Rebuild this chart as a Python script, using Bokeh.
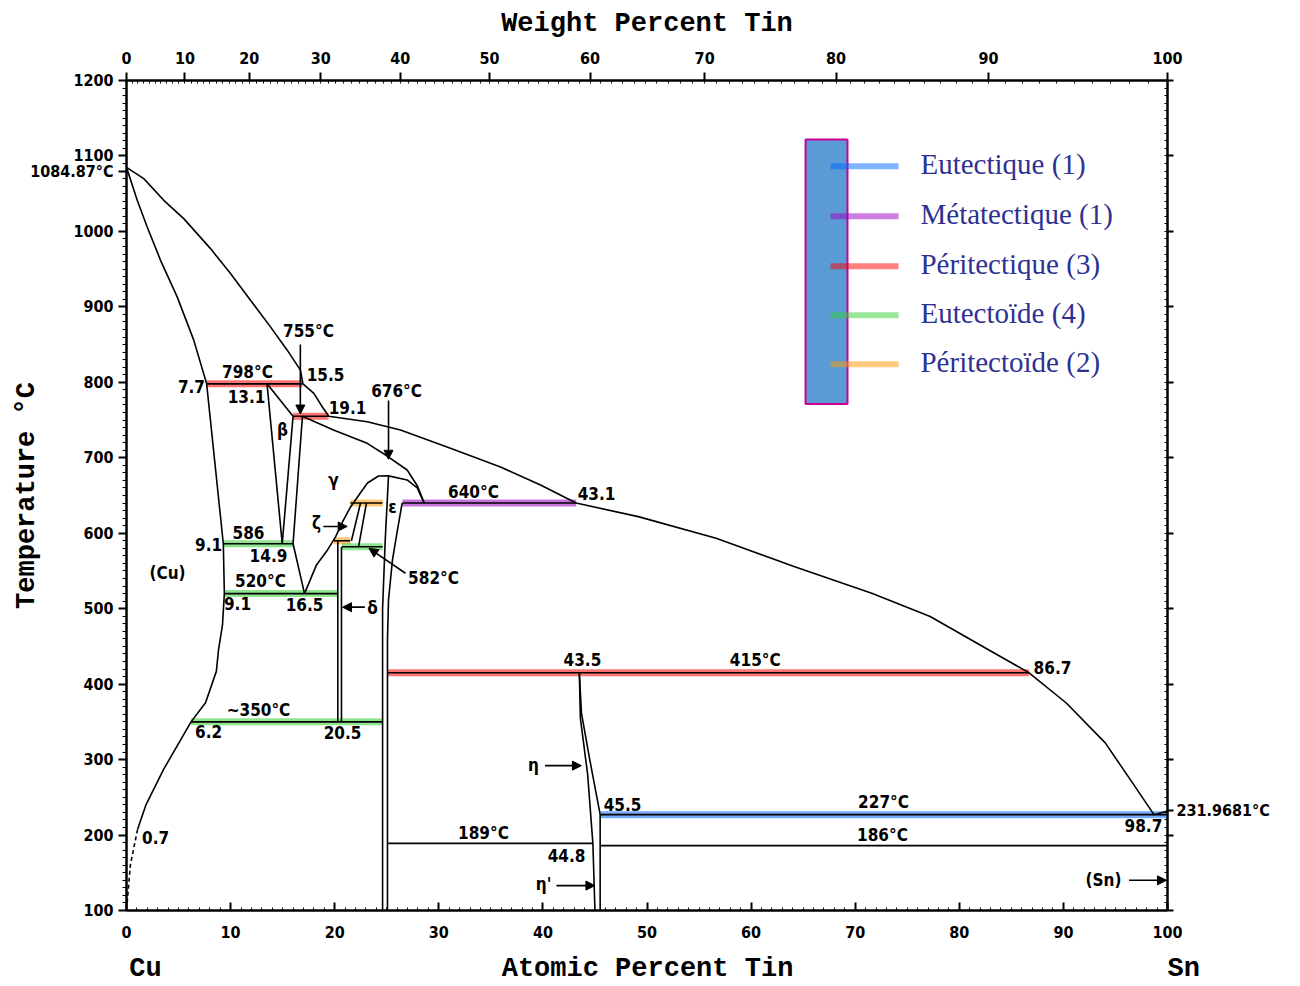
from bokeh.plotting import figure
from bokeh.models import (Range1d, LinearAxis, FixedTicker, Arrow,
                          NormalHead, ColumnDataSource)
from bokeh.core.properties import value
from bokeh.embed import file_html
from bokeh.resources import INLINE

# ------------------------------------------------------------------ data
# Liquidus (atomic % Sn, temperature degC)
liq_x = [0, 1.66, 3.58, 5.50, 8.07, 9.99, 11.91, 13.83, 15.44, 16.71, 16.95, 18.0, 18.8, 19.43,
         23.12, 26.32, 31.12, 35.93, 39.77, 43.19, 49.16, 56.64, 64.12, 71.59, 77.2, 82.8,
         86.7, 90.28, 94.02, 96.64, 98.7, 100]
liq_t = [1084.87, 1069.9, 1041.2, 1016.9, 977.2, 944.1, 908.8, 873.5, 842.6, 816.2, 798, 785.3,
         767.6, 755, 747.7, 736.7, 712.5, 687.8, 663.9, 640, 622.0, 593.4, 555.8, 520.6, 489.6,
         445.6, 415, 375.0, 322.1, 269.1, 227, 231.97]
# (Cu) solidus
sol_x = [0, 1.03, 1.99, 3.27, 4.87, 6.46, 7.7]
sol_t = [1084.87, 1041.2, 1005.8, 961.7, 913.2, 855.9, 798]
# (Cu) solvus
solv_x = [7.7, 9.3, 9.4, 9.22, 8.84, 8.63, 7.59, 6.2, 3.55, 1.88, 1.06]
solv_t = [798, 586, 520, 478.6, 445.5, 416.9, 375.4, 350, 286.7, 240.4, 207.3]
solvd_x = [1.06, 0.38, 0.03]
solvd_t = [207.3, 161, 105]
# beta / gamma boundaries
beta_left_x, beta_left_t = [13.5, 14.96], [798, 586]
beta_top_x, beta_top_t = [13.5, 16.0], [798, 755]
beta_right_x, beta_right_t = [16.0, 14.96], [755, 586]
gamma_left_x, gamma_left_t = [16.9, 16.0, 17.1], [755, 586, 520]
gsol_x = [16.9, 19.88, 23.12, 25.04, 26.96, 27.95, 28.6]
gsol_t = [755, 736.7, 719.1, 702.3, 683.8, 662.6, 640]
dome_x = [17.1, 18.25, 19.31, 20.08, 20.75, 21.52, 22.19, 23.15, 24.21, 25.17, 26.96, 27.93, 28.6]
dome_t = [520, 558, 577.9, 595.1, 614.9, 634.8, 648.0, 666.6, 675.8, 676, 670.6, 660.0, 640]
# epsilon, zeta, delta, eta
eps_l_x, eps_l_t = [25.17, 24.85, 24.6, 24.6], [676, 590, 500, 100]
eps_r_x, eps_r_t = [26.48, 26.03, 25.55, 25.17, 25.07, 25.07], [640, 604.4, 564.7, 511.7, 458.8, 100]
zeta_l_x, zeta_l_t = [22.48, 21.61], [640, 590]
zeta_r_x, zeta_r_t = [23.05, 22.29], [640, 582]
delta_l_x, delta_l_t = [20.3, 20.3], [590, 350]
delta_r_x, delta_r_t = [20.65, 20.65], [582, 350]
eta_l_x, eta_l_t = [43.5, 43.6, 44.3, 44.8, 45.0], [415, 355, 280, 189, 100]
eta_r_x, eta_r_t = [43.5, 43.7, 44.5, 45.5, 45.5], [415, 362, 300, 227, 100]

# invariant reactions (horizontal lines)
inv_t = [798, 755, 640, 640, 590, 586, 582, 520, 415, 350, 227, 189, 186]
inv_x0 = [7.7, 16.0, 26.5, 21.5, 19.9, 9.3, 20.7, 9.4, 25.07, 6.2, 45.5, 25.07, 45.5]
inv_x1 = [16.9, 19.4, 43.2, 24.6, 21.5, 16.0, 24.6, 20.3, 86.7, 24.6, 100, 44.8, 100]
inv_kind = ["per", "per", "met", "perd", "perd", "eutd", "eutd", "eutd", "per", "eutd",
            "eut", "none", "none"]

kind_color = {"eut": "#0066ff", "met": "#9900c1", "per": "#ff0000",
              "eutd": "#33cd33", "perd": "#ff9900"}

# arrows (x0, t0) -> (x1, t1)
arr_x0 = [16.7, 25.17, 18.9, 22.9, 26.8, 40.2, 41.3, 96.3]
arr_t0 = [850, 776, 609, 502, 547, 292, 133, 140]
arr_x1 = [16.7, 25.17, 21.2, 20.75, 23.3, 43.7, 45.0, 99.9]
arr_t1 = [758, 698, 609, 502, 580, 292, 133, 140]

# in-plot annotations
lab_text = ["755°C", "798°C", "15.5", "7.7", "13.1", "19.1", "676°C", "β", "γ", "640°C",
            "43.1", "ε", "ζ", "586", "9.1", "14.9", "(Cu)", "520°C", "9.1", "16.5", "δ",
            "582°C", "43.5", "415°C", "86.7", "~350°C", "6.2", "20.5", "η", "45.5",
            "227°C", "189°C", "186°C", "98.7", "44.8", "0.7", "η'", "(Sn)"]
lab_x = [17.48, 11.62, 19.12, 6.24, 11.53, 21.23, 25.94, 14.99, 19.88, 33.33,
         45.15, 25.55, 18.25, 11.72, 7.88, 13.64, 3.94, 12.87, 10.66, 17.1, 23.63,
         29.49, 43.8, 60.4, 88.95, 12.68, 7.88, 20.75, 39.1, 47.65,
         72.72, 34.29, 72.62, 97.69, 42.27, 2.79, 40.06, 93.85]
lab_t = [867.8, 813.5, 810.9, 795.0, 781.7, 767.2, 788.4, 736.7, 670.6, 654.7,
         652.0, 634.8, 613.6, 600.4, 584.5, 569.9, 547.5, 536.9, 506.4, 505.1, 501.1,
         540.8, 432.3, 432.3, 421.7, 366.1, 337.0, 335.7, 293.3, 240.4,
         244.3, 203.3, 200.7, 212.6, 172.9, 196.7, 134.5, 139.8]

# axis ticks
at_ticks = list(range(0, 101, 10))
wt_ticks = list(range(0, 101, 10))
t_ticks = list(range(100, 1201, 100))
cu_melt_label = "1084.87°C"
sn_melt_label = "231.9681°C"

# legend
leg_labels = ["Eutectique (1)", "Métatectique (1)", "Péritectique (3)", "Eutectoïde (4)",
              "Péritectoïde (2)"]
leg_kinds = ["eut", "met", "per", "eutd", "perd"]

# ------------------------------------------------------------------ helpers
M_SN, M_CU = 118.71, 63.546


def wt_to_at(w):
    if w <= 0:
        return 0.0
    if w >= 100:
        return 100.0
    a = w / M_SN
    b = (100 - w) / M_CU
    return 100 * a / (a + b)


FONT = "Liberation Sans Narrow, DejaVu Sans Condensed, Liberation Sans, sans-serif"
MONO = "Liberation Mono, DejaVu Sans Mono, monospace"

p = figure(width=1300, height=986, x_range=Range1d(0, 100), y_range=Range1d(100, 1200),
           output_backend="svg", toolbar_location=None,
           min_border_left=126, min_border_right=133, min_border_top=80, min_border_bottom=75)
p.grid.visible = False
p.outline_line_color = "black"
p.outline_line_width = 2
p.background_fill_color = "white"


def style_axis(ax):
    ax.axis_line_width = 2
    ax.axis_line_color = "black"
    ax.major_tick_line_width = 2
    ax.minor_tick_line_width = 1
    ax.major_label_text_font = FONT
    ax.major_label_text_font_style = "bold"
    ax.major_label_text_font_size = "16px"
    ax.major_label_text_color = "black"
    ax.axis_label_text_font = MONO
    ax.axis_label_text_font_style = "bold"
    ax.axis_label_text_font_size = "27px"
    ax.axis_label_text_color = "black"


# bottom: atomic percent numbers
bx = p.xaxis[0]
bx.ticker = FixedTicker(ticks=at_ticks, minor_ticks=list(range(0, 101)))
style_axis(bx)
bx.major_tick_out = 0
bx.major_tick_in = 8
bx.minor_tick_out = 0
bx.minor_tick_in = 3
bx.major_label_standoff = 15

# bottom: Cu / axis title / Sn on one line
title_pos = [1.83, 50.05, 100]
title_txt = ["Cu", "Atomic Percent Tin", "\u00a0\u00a0Sn"]
bx2 = LinearAxis(ticker=FixedTicker(ticks=title_pos, minor_ticks=[]),
                 major_label_overrides={k: t for k, t in zip(title_pos, title_txt)})
bx2.axis_line_color = None
bx2.major_tick_line_color = None
bx2.minor_tick_line_color = None
bx2.major_tick_out = 0
bx2.major_tick_in = 0
bx2.major_label_standoff = 13
bx2.major_label_text_font = MONO
bx2.major_label_text_font_style = "bold"
bx2.major_label_text_font_size = "27px"
bx2.major_label_text_color = "black"
p.add_layout(bx2, "below")

# left: temperature
ly = p.yaxis[0]
left_ticks = t_ticks + [1080]
ly.ticker = FixedTicker(ticks=left_ticks, minor_ticks=list(range(100, 1201, 10)))
style_axis(ly)
ly.major_label_overrides = {1080: cu_melt_label}
ly.major_tick_out = 8
ly.major_tick_in = 0
ly.minor_tick_out = 4
ly.minor_tick_in = 0
ly.major_label_standoff = 5
ly.axis_label = "Temperature °C"
ly.axis_label_standoff = -15

# top: weight percent
wt_pos = [round(wt_to_at(w), 3) for w in wt_ticks]
wt_minor = [round(wt_to_at(w), 3) for w in range(0, 101)]
top = LinearAxis(ticker=FixedTicker(ticks=wt_pos, minor_ticks=wt_minor),
                 major_label_overrides={pos: str(w) for pos, w in zip(wt_pos, wt_ticks)})
style_axis(top)
top.major_tick_out = 8
top.major_tick_in = 0
top.minor_tick_out = 0
top.minor_tick_in = 3
top.major_label_standoff = 9
top.axis_label = "Weight Percent Tin"
top.axis_label_standoff = 10
p.add_layout(top, "above")

# right
right_ticks = t_ticks + [231.97]
right = LinearAxis(ticker=FixedTicker(ticks=right_ticks,
                                      minor_ticks=list(range(100, 1201, 10))))
style_axis(right)
over = {t: "" for t in t_ticks}
over[231.97] = sn_melt_label
right.major_label_overrides = over
right.major_tick_out = 6
right.major_tick_in = 0
right.minor_tick_out = 0
right.minor_tick_in = 3
right.major_label_standoff = 3
p.add_layout(right, "right")

# ------------------------------------------------------------------ invariant bars
for t, x0, x1, k in zip(inv_t, inv_x0, inv_x1, inv_kind):
    if k != "none":
        p.line([x0, x1], [t, t], line_color=kind_color[k], line_alpha=0.55, line_width=7)
for t, x0, x1 in zip(inv_t, inv_x0, inv_x1):
    p.line([x0, x1], [t, t], line_color="black", line_width=1.6)

# ------------------------------------------------------------------ boundaries
curves = [(liq_x, liq_t), (sol_x, sol_t), (solv_x, solv_t),
          (beta_left_x, beta_left_t), (beta_top_x, beta_top_t), (beta_right_x, beta_right_t),
          (gamma_left_x, gamma_left_t), (gsol_x, gsol_t), (dome_x, dome_t),
          (eps_l_x, eps_l_t), (eps_r_x, eps_r_t), (zeta_l_x, zeta_l_t), (zeta_r_x, zeta_r_t),
          (delta_l_x, delta_l_t), (delta_r_x, delta_r_t), (eta_l_x, eta_l_t), (eta_r_x, eta_r_t)]
for cx, ct in curves:
    p.line(cx, ct, line_color="black", line_width=1.6)
p.line(solvd_x, solvd_t, line_color="black", line_width=1.6, line_dash="4 3")

# arrows
arr_src = ColumnDataSource(dict(x0=arr_x0, y0=arr_t0, x1=arr_x1, y1=arr_t1))
p.add_layout(Arrow(x_start="x0", y_start="y0", x_end="x1", y_end="y1", source=arr_src,
                   line_color="black", line_width=1.6,
                   end=NormalHead(size=9, fill_color="black", line_color="black")))

# labels
lab_src = ColumnDataSource(dict(x=lab_x, y=lab_t, text=lab_text))
p.text("x", "y", "text", source=lab_src, text_font=value(FONT), text_font_style="bold",
       text_font_size=value("17px"), text_align="center", text_baseline="middle",
       text_color="black")

# ------------------------------------------------------------------ legend
p.quad(left=[65.23], right=[69.26], bottom=[771.1], top=[1121.9],
       fill_color="#5B9BD5", line_color="#CC0099", line_width=2)
leg_t = [1086.2, 1020.0, 953.8, 888.9, 824.1]
for k, t in zip(leg_kinds, leg_t):
    p.line([67.63, 74.16], [t, t], line_color=kind_color[k], line_alpha=0.5, line_width=6)
p.text(x=[76.27] * 5, y=[t + 3 for t in leg_t], text=leg_labels,
       text_font=value("Liberation Serif"), text_font_size=value("29px"),
       text_align="left", text_baseline="middle", text_color="#2E3192")

open("out.html", "w").write(file_html(p, INLINE))
